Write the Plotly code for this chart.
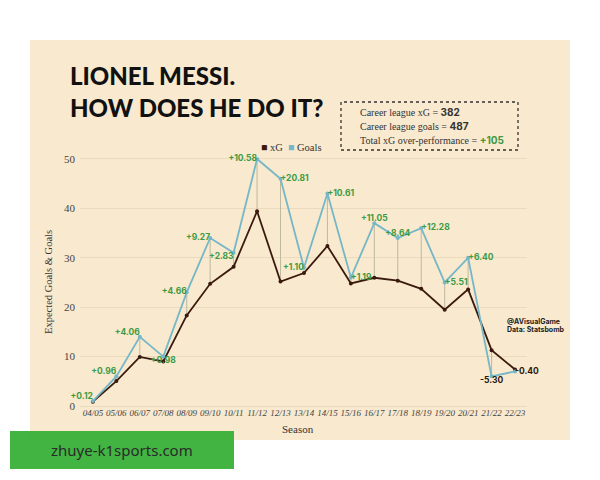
import plotly.graph_objects as go

# ---------------- data ----------------
seasons = ["04/05", "05/06", "06/07", "07/08", "08/09", "09/10", "10/11", "11/12", "12/13",
           "13/14", "14/15", "15/16", "16/17", "17/18", "18/19", "19/20", "20/21", "21/22", "22/23"]
goals = [1, 6, 14, 10, 23, 34, 31, 50, 46, 28, 43, 26, 37, 34, 36, 25, 30, 6, 7]
xg = [0.88, 5.04, 9.94, 9.02, 18.34, 24.73, 28.17, 39.42, 25.19, 26.90, 32.39, 24.81,
      25.95, 25.36, 23.72, 19.49, 23.60, 11.30, 7.40]
y_ticks = [0, 10, 20, 30, 40, 50]
career_xg = 382
career_goals = 487
career_over = "+105"

# ---------------- style / layout helpers ----------------
W, H = 600, 480
L, R, T, B = 80, 73, 154, 74
PW, PH = W - L - R, H - T - B
def px(x):
    return (x - L) / PW
def py(y):
    return (H - B - y) / PH

BEIGE = "#f8e9cf"
GREEN = "#3f9a41"
DARK = "#2a1a12"
GOALS_C = "#76b7c7"
XG_C = "#3b1a0e"
SERIF = "Liberation Serif"
SANS = "Inter"
TITLE_FONT = "Lato"

diffs = [round(g - x, 2) for g, x in zip(goals, xg)]
labels = ["%+.2f" % d for d in diffs]
label_colors = [GREEN if d >= 0 else DARK for d in diffs]
label_pos = ["top left", "top left", "top left", "bottom center", "middle left", "middle left",
             "bottom left", "middle left", "middle right", "middle left", "middle right",
             "middle right", "top center", "top center", "middle right", "middle right",
             "middle right", "bottom center", "middle right"]

fig = go.Figure()

# connector lines between xG and goals
cx, cy = [], []
for s, g, x in zip(seasons, goals, xg):
    cx += [s, s, None]
    cy += [x, g, None]
fig.add_trace(go.Scatter(x=cx, y=cy, mode="lines", line=dict(color="#bdb99f", width=1),
                         hoverinfo="skip", showlegend=False))

fig.add_trace(go.Scatter(x=seasons, y=xg, mode="lines+markers", name="xG",
                         line=dict(color=XG_C, width=1.8), marker=dict(size=4, color=XG_C),
                         showlegend=False))
fig.add_trace(go.Scatter(x=seasons, y=goals, mode="lines+markers", name="Goals",
                         line=dict(color=GOALS_C, width=1.8), marker=dict(size=4, color=GOALS_C),
                         showlegend=False))
fig.add_trace(go.Scatter(x=seasons, y=goals, mode="text", text=labels,
                         textposition=label_pos, cliponaxis=False,
                         textfont=dict(family=SANS, size=8.5, color=label_colors, weight=700),
                         hoverinfo="skip", showlegend=False))

shapes = [
    dict(type="rect", xref="paper", yref="paper", x0=px(30), x1=px(570), y0=py(440), y1=py(40),
         fillcolor=BEIGE, line=dict(width=0), layer="below"),
    dict(type="rect", xref="paper", yref="paper", x0=px(341), x1=px(518), y0=py(150), y1=py(102),
         fillcolor="rgba(0,0,0,0)", line=dict(color="#333", width=1.3, dash="dot")),
    dict(type="rect", xref="paper", yref="paper", x0=px(10), x1=px(234), y0=py(469), y1=py(431),
         fillcolor="rgba(52,174,52,0.93)", line=dict(width=0), layer="above"),
]

ann = []
def A(text, x, y, size, family, color=DARK, xanchor="left", weight=None, **kw):
    f = dict(size=size, family=family, color=color)
    if weight:
        f["weight"] = weight
    ann.append(dict(text=text, x=px(x), y=py(y), xref="paper", yref="paper", showarrow=False,
                    xanchor=xanchor, yanchor="middle", font=f, **kw))

A("LIONEL MESSI.", 68, 75, 24, TITLE_FONT, "#111", weight=900)
A("HOW DOES HE DO IT?", 68, 107, 24, TITLE_FONT, "#111", weight=900)
A("Career league xG = <b style='font-family:Inter'>%d</b>" % career_xg, 358, 112, 10, SERIF, "#333")
A("Career league goals = <b style='font-family:Inter'>%d</b>" % career_goals, 358, 126, 10, SERIF, "#333")
A("Total xG over-performance = <b style='font-family:Inter;color:%s'>%s</b>" % (GREEN, career_over),
  358, 140, 10, SERIF, "#333")
A("<span style='color:%s'>■</span> xG  <span style='color:%s'>■</span> Goals" % (XG_C, GOALS_C),
  259, 147, 10.5, SERIF, "#333")
A("<b>@AVisualGame</b>", 505, 321, 7, SANS, "#222")
A("<b>Data: Statsbomb</b>", 505, 329, 7, SANS, "#222")
A("Season", 298, 429, 11, SERIF, "#333", xanchor="center")
A("Expected Goals & Goals", 48, 282, 10.5, SERIF, "#333", xanchor="center", textangle=-90)
A("zhuye-k1sports.com", 122, 450, 15, "Noto Sans", "#2a2a2a", xanchor="center")

fig.update_layout(
    width=W, height=H, margin=dict(l=L, r=R, t=T, b=B),
    paper_bgcolor="white", plot_bgcolor=BEIGE,
    shapes=shapes, annotations=ann,
    xaxis=dict(type="category", range=[-0.55, 18.51], showgrid=False, zeroline=False,
               showline=False, ticks="", tickangle=0,
               tickfont=dict(family=SERIF, size=9, color="#444", style="italic")),
    yaxis=dict(range=[0, 51], tickvals=y_ticks, showgrid=True, gridcolor="#eadbbd", gridwidth=1,
               zeroline=True, zerolinecolor="#eadbbd", zerolinewidth=1, showline=False,
               tickfont=dict(family=SERIF, size=11, color="#444"), ticklabelstandoff=4),
)

fig.write_html("out.html")
